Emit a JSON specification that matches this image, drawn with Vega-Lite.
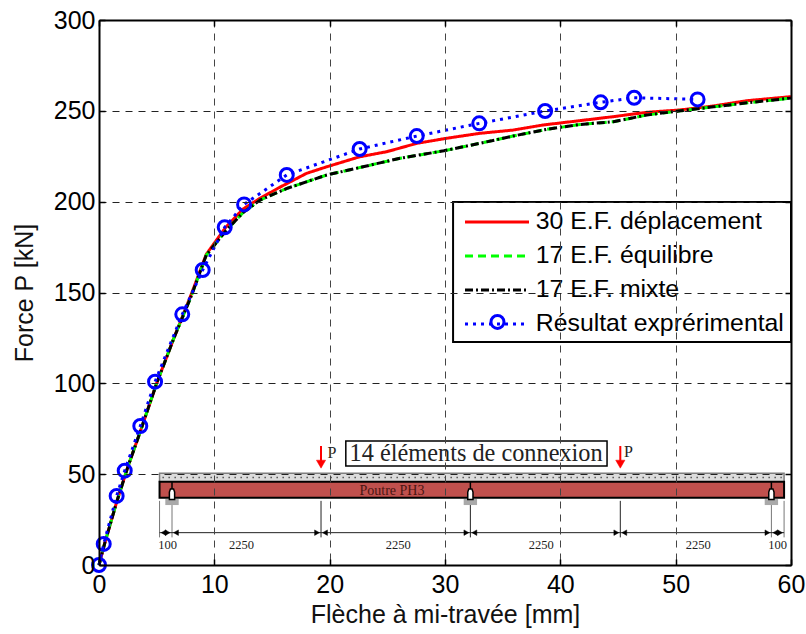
{"$schema":"https://vega.github.io/schema/vega-lite/v6.json","width":692,"height":545,"autosize":"none","padding":{"left":99,"top":20,"right":15,"bottom":69},"background":"white",
"config":{"font":"Liberation Sans","view":{"stroke":null}},
"datasets":{
"curves":[
{"series":"30 E.F. déplacement","x":0,"y":0},{"series":"30 E.F. déplacement","x":0.5,"y":12},{"series":"30 E.F. déplacement","x":1.5,"y":34},{"series":"30 E.F. déplacement","x":2.5,"y":54},{"series":"30 E.F. déplacement","x":3.5,"y":72},{"series":"30 E.F. déplacement","x":5,"y":100},{"series":"30 E.F. déplacement","x":6.5,"y":125},{"series":"30 E.F. déplacement","x":8,"y":149},{"series":"30 E.F. déplacement","x":9.3,"y":171},{"series":"30 E.F. déplacement","x":11,"y":186},{"series":"30 E.F. déplacement","x":12.5,"y":196},{"series":"30 E.F. déplacement","x":14,"y":202},{"series":"30 E.F. déplacement","x":15.7,"y":208},{"series":"30 E.F. déplacement","x":18,"y":215.6},{"series":"30 E.F. déplacement","x":19.75,"y":219.2},{"series":"30 E.F. déplacement","x":22.6,"y":224.7},{"series":"30 E.F. déplacement","x":24.95,"y":227.5},{"series":"30 E.F. déplacement","x":27.55,"y":232.1},{"series":"30 E.F. déplacement","x":30.15,"y":234.9},{"series":"30 E.F. déplacement","x":33,"y":237.6},{"series":"30 E.F. déplacement","x":35.9,"y":239.4},{"series":"30 E.F. déplacement","x":38.5,"y":242.2},{"series":"30 E.F. déplacement","x":41.7,"y":244.6},{"series":"30 E.F. déplacement","x":44.6,"y":246.8},{"series":"30 E.F. déplacement","x":47.5,"y":249.2},{"series":"30 E.F. déplacement","x":50.4,"y":250.5},{"series":"30 E.F. déplacement","x":53.3,"y":252.7},{"series":"30 E.F. déplacement","x":56.2,"y":255.6},{"series":"30 E.F. déplacement","x":60,"y":257.8},
{"series":"17 E.F. équilibre","x":0,"y":0},{"series":"17 E.F. équilibre","x":0.5,"y":12},{"series":"17 E.F. équilibre","x":1.5,"y":34},{"series":"17 E.F. équilibre","x":2.5,"y":54},{"series":"17 E.F. équilibre","x":3.5,"y":72},{"series":"17 E.F. équilibre","x":5,"y":100},{"series":"17 E.F. équilibre","x":6.5,"y":125},{"series":"17 E.F. équilibre","x":8,"y":148},{"series":"17 E.F. équilibre","x":9.3,"y":170.5},{"series":"17 E.F. équilibre","x":11,"y":184},{"series":"17 E.F. équilibre","x":12.5,"y":194},{"series":"17 E.F. équilibre","x":14,"y":201},{"series":"17 E.F. équilibre","x":16.3,"y":207.3},{"series":"17 E.F. équilibre","x":19.75,"y":214.7},{"series":"17 E.F. équilibre","x":22.9,"y":219.2},{"series":"17 E.F. équilibre","x":26.1,"y":223.9},{"series":"17 E.F. équilibre","x":29.9,"y":228},{"series":"17 E.F. équilibre","x":33,"y":232.1},{"series":"17 E.F. équilibre","x":35.9,"y":236.1},{"series":"17 E.F. équilibre","x":38.8,"y":239.8},{"series":"17 E.F. équilibre","x":41.7,"y":242.5},{"series":"17 E.F. équilibre","x":44.6,"y":244},{"series":"17 E.F. équilibre","x":47.5,"y":247.7},{"series":"17 E.F. équilibre","x":50.4,"y":250},{"series":"17 E.F. équilibre","x":53.3,"y":252.2},{"series":"17 E.F. équilibre","x":56.2,"y":254.4},{"series":"17 E.F. équilibre","x":60,"y":257},
{"series":"17 E.F. mixte","x":0,"y":0},{"series":"17 E.F. mixte","x":0.5,"y":12},{"series":"17 E.F. mixte","x":1.5,"y":34},{"series":"17 E.F. mixte","x":2.5,"y":54},{"series":"17 E.F. mixte","x":3.5,"y":72},{"series":"17 E.F. mixte","x":5,"y":100},{"series":"17 E.F. mixte","x":6.5,"y":125},{"series":"17 E.F. mixte","x":8,"y":148},{"series":"17 E.F. mixte","x":9.3,"y":170.5},{"series":"17 E.F. mixte","x":11,"y":184},{"series":"17 E.F. mixte","x":12.5,"y":194},{"series":"17 E.F. mixte","x":14,"y":201},{"series":"17 E.F. mixte","x":16.3,"y":207.3},{"series":"17 E.F. mixte","x":19.75,"y":214.7},{"series":"17 E.F. mixte","x":22.9,"y":219.2},{"series":"17 E.F. mixte","x":26.1,"y":223.9},{"series":"17 E.F. mixte","x":29.9,"y":228},{"series":"17 E.F. mixte","x":33,"y":232.1},{"series":"17 E.F. mixte","x":35.9,"y":236.1},{"series":"17 E.F. mixte","x":38.8,"y":239.8},{"series":"17 E.F. mixte","x":41.7,"y":242.5},{"series":"17 E.F. mixte","x":44.6,"y":244},{"series":"17 E.F. mixte","x":47.5,"y":247.7},{"series":"17 E.F. mixte","x":50.4,"y":250},{"series":"17 E.F. mixte","x":53.3,"y":252.2},{"series":"17 E.F. mixte","x":56.2,"y":254.4},{"series":"17 E.F. mixte","x":60,"y":257},
{"series":"Résultat exprérimental","x":0,"y":0},{"series":"Résultat exprérimental","x":0.41,"y":11.6},{"series":"Résultat exprérimental","x":1.53,"y":38},{"series":"Résultat exprérimental","x":2.23,"y":51.9},{"series":"Résultat exprérimental","x":3.58,"y":76.5},{"series":"Résultat exprérimental","x":4.86,"y":100.9},{"series":"Résultat exprérimental","x":7.22,"y":138},{"series":"Résultat exprérimental","x":8.99,"y":162.4},{"series":"Résultat exprérimental","x":10.9,"y":185.9},{"series":"Résultat exprérimental","x":12.58,"y":198.5},{"series":"Résultat exprérimental","x":16.28,"y":214.7},{"series":"Résultat exprérimental","x":22.6,"y":229},{"series":"Résultat exprérimental","x":27.55,"y":236.1},{"series":"Résultat exprérimental","x":32.97,"y":243.1},{"series":"Résultat exprérimental","x":38.68,"y":249.9},{"series":"Résultat exprérimental","x":43.5,"y":254.7},{"series":"Résultat exprérimental","x":46.4,"y":257.2},{"series":"Résultat exprérimental","x":51.9,"y":256.3}
]
},
"encoding":{
"x":{"field":"x","type":"quantitative","scale":{"domain":[0,60],"nice":false,"zero":false},"axis":null},
"y":{"field":"y","type":"quantitative","scale":{"domain":[0,300],"nice":false,"zero":false},"axis":null}
},
"resolve":{"axis":{"x":"independent","y":"independent"}},
"layer":[
{"data":{"values":[{"x":3.95,"y":7.2,"x2":59.9,"y2":67.2}]},
"mark":{"type":"rect","fill":"white"},
"encoding":{
"x":{"field":"x","type":"quantitative","title":"Flèche à mi-travée [mm]","scale":{"domain":[0,60],"nice":false,"zero":false},
"axis":{"orient":"bottom","zindex":1,"values":[0,10,20,30,40,50,60],"grid":true,"gridDash":[7,6],"gridColor":"#444","gridWidth":1,"domainColor":"black","domainWidth":2,"tickColor":"black","tickWidth":1.5,"tickSize":-6,"labelFontSize":25,"labelColor":"black","labelPadding":13,"titleFontSize":25,"titleFontWeight":"normal","titleColor":"#111","titlePadding":5,"labelFlush":false,"labelOverlap":false}},
"y":{"field":"y","type":"quantitative","title":"Force P [kN]","scale":{"domain":[0,300],"nice":false,"zero":false},
"axis":{"orient":"left","zindex":1,"values":[0,50,100,150,200,250,300],"grid":true,"gridDash":[7,6],"gridColor":"#222","gridWidth":1,"domainColor":"black","domainWidth":2,"tickColor":"black","tickWidth":1.5,"tickSize":-6,"labelFontSize":25,"labelColor":"black","labelPadding":10,"titleFontSize":25,"titleFontWeight":"normal","titleColor":"#111","titlePadding":16,"labelOverlap":false}},
"x2":{"field":"x2"},"y2":{"field":"y2"}}},
{"data":{"values":[{"x":30.7,"y":122.75,"x2":60,"y2":199.8}]},"mark":{"type":"rect","fill":"white","stroke":"black","strokeWidth":2},
"encoding":{
"x":{"field":"x","type":"quantitative","scale":{"domain":[0,60],"nice":false,"zero":false},
"axis":{"orient":"top","zindex":1,"values":[0,10,20,30,40,50,60],"grid":false,"labels":false,"title":null,"domainColor":"black","domainWidth":2,"tickColor":"black","tickWidth":1.5,"tickSize":-6}},
"y":{"field":"y","type":"quantitative","scale":{"domain":[0,300],"nice":false,"zero":false},
"axis":{"orient":"right","zindex":1,"values":[0,50,100,150,200,250,300],"grid":false,"labels":false,"title":null,"domainColor":"black","domainWidth":2,"tickColor":"black","tickWidth":1.5,"tickSize":-6}},
"x2":{"field":"x2"},"y2":{"field":"y2"}}},
{"data":{"values":[{"x":5.25,"y":45.85,"x2":59.4,"y2":50.5}]},"mark":{"type":"rect","fill":"#dcdcdc","stroke":"#7f7f7f","strokeWidth":1.5},"encoding":{"x2":{"field":"x2"},"y2":{"field":"y2"}}},
{"data":{"values":[{"x":5.5,"y":48.2,"x2":59.2}]},"mark":{"type":"rule","stroke":"#555","strokeWidth":1.5,"strokeDash":[1.5,4.5]},"encoding":{"x2":{"field":"x2"}}},
{"data":{"values":[{"x":5.25,"y":37.05,"x2":59.4,"y2":45.85}]},"mark":{"type":"rect","fill":"#c0504d","stroke":"black","strokeWidth":2},"encoding":{"x2":{"field":"x2"},"y2":{"field":"y2"}}},
{"data":{"values":[{"x":5.75,"y":33,"x2":6.91,"y2":36.3},{"x":31.62,"y":33,"x2":32.78,"y2":36.3},{"x":57.72,"y":33,"x2":58.88,"y2":36.3}]},"mark":{"type":"rect","fill":"#a9a9a9"},"encoding":{"x2":{"field":"x2"},"y2":{"field":"y2"}}},
{"data":{"values":[{"x":6.33,"y":45.85,"y2":41},{"x":32.2,"y":45.85,"y2":41},{"x":58.3,"y":45.85,"y2":41}]},"mark":{"type":"rule","stroke":"black","strokeWidth":1.5},"encoding":{"y2":{"field":"y2"}}},
{"data":{"values":[{"x":6.33,"y":39},{"x":32.2,"y":39},{"x":58.3,"y":39}]},"mark":{"type":"point","shape":"M-0.5,1H0.5V-0.4L0.3,-1H-0.3L-0.5,-0.4Z","size":110,"fill":"white","stroke":"black","strokeWidth":1.5,"opacity":1}},
{"data":{"values":[{"x":5.25,"y":35.3,"y2":15.2},{"x":6.33,"y":33,"y2":15.2},{"x":58.3,"y":33,"y2":15.2},{"x":59.4,"y":35.3,"y2":15.2}]},"mark":{"type":"rule","stroke":"#777","strokeWidth":1},"encoding":{"y2":{"field":"y2"}}},
{"data":{"values":[{"x":19.25,"y":35.3,"y2":15.2},{"x":32.2,"y":33,"y2":15.2},{"x":45.2,"y":35.3,"y2":15.2}]},"mark":{"type":"rule","stroke":"#222","strokeWidth":1},"encoding":{"y2":{"field":"y2"}}},
{"data":{"values":[{"x":5.25,"y":17.8,"x2":59.4}]},"mark":{"type":"rule","stroke":"#222","strokeWidth":1},"encoding":{"x2":{"field":"x2"}}},
{"data":{"values":[{"x":5.95,"y":17.8},{"x":18.9,"y":17.8},{"x":31.85,"y":17.8},{"x":44.85,"y":17.8},{"x":57.95,"y":17.8},{"x":59.05,"y":17.8}]},"mark":{"type":"point","shape":"triangle-right","size":30,"fill":"black","stroke":"black","strokeWidth":0.5,"opacity":1}},
{"data":{"values":[{"x":5.6,"y":17.8},{"x":6.68,"y":17.8},{"x":19.6,"y":17.8},{"x":32.55,"y":17.8},{"x":45.55,"y":17.8},{"x":58.65,"y":17.8}]},"mark":{"type":"point","shape":"triangle-left","size":30,"fill":"black","stroke":"black","strokeWidth":0.5,"opacity":1}},
{"data":{"values":[{"t":"100","x":5.95,"y":11},{"t":"2250","x":12.35,"y":11},{"t":"2250","x":25.95,"y":11},{"t":"2250","x":38.35,"y":11},{"t":"2250","x":51.95,"y":11},{"t":"100","x":58.85,"y":11}]},"mark":{"type":"text","font":"Liberation Serif","fontSize":12.5,"fill":"#222","align":"center","baseline":"middle"},"encoding":{"text":{"field":"t"}}},
{"data":{"values":[{"x":25.4,"y":40.7,"t":"Poutre PH3"}]},"mark":{"type":"text","font":"Liberation Serif","fontSize":14,"fill":"#4a1512","align":"center","baseline":"middle"},"encoding":{"text":{"field":"t"}}},
{"data":{"values":[{"x":19.25,"y":65.5,"y2":57},{"x":45.2,"y":65.5,"y2":57}]},"mark":{"type":"rule","stroke":"#ff0000","strokeWidth":2},"encoding":{"y2":{"field":"y2"}}},
{"data":{"values":[{"x":19.25,"y":55.5},{"x":45.2,"y":55.5}]},"mark":{"type":"point","shape":"triangle-down","size":85,"fill":"#ff0000","stroke":"#ff0000","strokeWidth":0.5,"opacity":1}},
{"data":{"values":[{"x":20.2,"y":61.8,"t":"P"},{"x":45.9,"y":62,"t":"P"}]},"mark":{"type":"text","font":"Liberation Serif","fontSize":16,"fill":"#222","align":"center","baseline":"middle"},"encoding":{"text":{"field":"t"}}},
{"data":{"values":[{"x":21.4,"y":54.5,"x2":44.05,"y2":68.3}]},"mark":{"type":"rect","fill":"white","stroke":"black","strokeWidth":1.5},"encoding":{"x2":{"field":"x2"},"y2":{"field":"y2"}}},
{"data":{"values":[{"x":32.7,"y":61.3,"t":"14 éléments de connexion"}]},"mark":{"type":"text","font":"Liberation Serif","fontSize":24.3,"fill":"#222","align":"center","baseline":"middle"},"encoding":{"text":{"field":"t"}}},
{"data":{"name":"curves"},"mark":{"type":"line","strokeWidth":3,"clip":false},
"encoding":{
"color":{"field":"series","type":"nominal","sort":null,"scale":{"domain":["30 E.F. déplacement","17 E.F. équilibre","17 E.F. mixte","Résultat exprérimental"],"range":["#ff0000","#00ff00","#000000","#0000ff"]},
"legend":{"title":null,"orient":"none","legendX":358,"legendY":189.5,"padding":0,"symbolType":"M-32,0H32","symbolSize":4,"symbolStrokeWidth":3,"labelFontSize":24.8,"labelColor":"black","labelOffset":54,"labelLimit":400,"rowPadding":8,"encode":{"symbols":{"update":{"x":{"value":40}}}}}},
"strokeDash":{"field":"series","type":"nominal","sort":null,"scale":{"domain":["30 E.F. déplacement","17 E.F. équilibre","17 E.F. mixte","Résultat exprérimental"],"range":[[1,0],[8,5],[8,3,2,3],[3,5]]},
"legend":{"title":null,"orient":"none","legendX":358,"legendY":189.5,"padding":0,"symbolType":"M-32,0H32","symbolSize":4,"symbolStrokeWidth":3,"labelFontSize":24.8,"labelColor":"black","labelOffset":54,"labelLimit":400,"rowPadding":8,"encode":{"symbols":{"update":{"x":{"value":40}}}}}}
}},
{"data":{"name":"curves"},"transform":[{"filter":"datum.series === 'Résultat exprérimental'"}],"mark":{"type":"point","size":169,"stroke":"#0000ff","strokeWidth":3,"fill":null,"opacity":1,"clip":false}},
{"data":{"values":[{"x":34.55,"y":133.8}]},"mark":{"type":"point","size":169,"stroke":"#0000ff","strokeWidth":3,"fill":null,"opacity":1}}
]}
